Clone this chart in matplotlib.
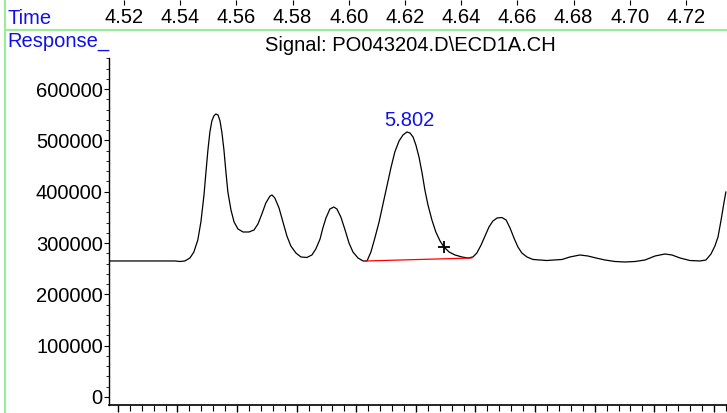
import matplotlib
matplotlib.use("Agg")
import matplotlib.pyplot as plt
from matplotlib.ticker import MultipleLocator, NullFormatter
import numpy as np

plt.rcParams["font.family"] = ["Liberation Sans", "DejaVu Sans"]

# trace (time in min, detector response)
time_min = [
    4.5147, 4.5293, 4.5382, 4.5399, 4.5417, 4.5435, 4.5449, 4.5463, 4.5474, 4.5485,
    4.5492, 4.5499, 4.5506, 4.5513, 4.5520, 4.5527, 4.5535, 4.5542, 4.5549, 4.5556,
    4.5563, 4.5570, 4.5581, 4.5592, 4.5606, 4.5624, 4.5645, 4.5663, 4.5677, 4.5691,
    4.5705, 4.5720, 4.5727, 4.5737, 4.5752, 4.5766, 4.5780, 4.5794, 4.5812, 4.5830,
    4.5851, 4.5869, 4.5883, 4.5898, 4.5908, 4.5919, 4.5933, 4.5947, 4.5958, 4.5972,
    4.5987, 4.6001, 4.6015, 4.6033, 4.6051, 4.6065, 4.6079, 4.6093, 4.6108, 4.6122,
    4.6136, 4.6150, 4.6164, 4.6179, 4.6193, 4.6207, 4.6218, 4.6229, 4.6239, 4.6250,
    4.6261, 4.6271, 4.6282, 4.6296, 4.6310, 4.6325, 4.6339, 4.6357, 4.6378, 4.6403,
    4.6424, 4.6442, 4.6456, 4.6471, 4.6485, 4.6499, 4.6513, 4.6528, 4.6545, 4.6560,
    4.6574, 4.6588, 4.6602, 4.6616, 4.6634, 4.6656, 4.6681, 4.6705, 4.6730, 4.6759,
    4.6787, 4.6823, 4.6851, 4.6880, 4.6912, 4.6947, 4.6983, 4.7019, 4.7054, 4.7090,
    4.7125, 4.7150, 4.7179, 4.7214, 4.7250, 4.7271, 4.7289, 4.7303, 4.7314, 4.7325,
    4.7335, 4.7342,
]
response = [
    265100, 265100, 265100, 264100, 265100, 270900, 282600, 306000, 341100, 393700,
    438500, 481400, 516500, 537900, 547700, 551600, 549600, 537900, 514500, 481400,
    438500, 399500, 364500, 341100, 327400, 321600, 321600, 325500, 337200, 356700,
    378100, 391700, 393700, 387900, 368400, 341100, 313800, 294300, 280700, 272900,
    271900, 276800, 288500, 307900, 329400, 348900, 366400, 370300, 366400, 350800,
    325500, 300100, 282600, 270900, 265100, 265100, 282600, 309900, 341100, 376200,
    411200, 446300, 477500, 498900, 510600, 516500, 514500, 506700, 491100, 467800,
    436600, 403400, 374200, 345000, 321600, 304000, 292400, 282600, 276800, 272900,
    270900, 272900, 280700, 296200, 313800, 331300, 343000, 348900, 349800, 345000,
    329400, 309900, 292400, 280700, 272900, 268000, 267000, 266000, 267000, 268000,
    272900, 276800, 274800, 270900, 267000, 264100, 263100, 264100, 267000, 274800,
    278700, 276800, 270900, 266000, 265100, 267000, 278700, 294300, 311800, 345000,
    378100, 399500,
]

# integration baseline of the labelled peak and the cursor mark
base_time = [4.6062, 4.6438]
base_resp = [265100, 270900]
cursor_time = 4.6339
cursor_resp = 292400
peak_label = "5.802"
signal_name = r"Signal: PO043204.D\ECD1A.CH"

top_ticks = [4.52, 4.54, 4.56, 4.58, 4.60, 4.62, 4.64, 4.66, 4.68, 4.70, 4.72]

W, H = 727, 413
XLIM = (4.5147, 4.7346)
fig = plt.figure(figsize=(W / 100, H / 100), dpi=100)

ax = fig.add_axes([109 / W, 8 / H, 1 - 109 / W, 347 / H])
ax.plot(time_min, response, color="black", lw=0.9)
ax.plot(base_time, base_resp, color="red", lw=0.9)
ax.plot(cursor_time, cursor_resp, marker="+", color="black", ms=8, mew=1.3)

i_max = int(np.argmax(response[50:70])) + 50
ax.annotate(peak_label, xy=(time_min[i_max] + 0.0008, response[i_max]), xytext=(0, 1.5),
            textcoords="offset points", ha="center", va="bottom",
            color="#1010ee", fontsize=14.5)

ax.set_xlim(*XLIM)
ax.set_ylim(-15600, 660700)
for s in ["top", "right"]:
    ax.spines[s].set_visible(False)
ax.spines["left"].set_linewidth(1.0)
ax.spines["bottom"].set_linewidth(1.2)
ax.set_xticks([])

ax.yaxis.set_major_locator(MultipleLocator(100000))
ax.yaxis.set_minor_locator(MultipleLocator(20000))
ax.tick_params(axis="y", which="major", direction="out", length=3.5, width=0.8,
               labelsize=14.5, pad=1)
ax.tick_params(axis="y", which="minor", direction="out", length=2, width=0.6)

# the unlabelled run-time scale along the bottom
sec = ax.secondary_xaxis("bottom", functions=(lambda t: 5.80 + (t - 4.6239) * 0.943,
                                             lambda r: 4.6239 + (r - 5.80) / 0.943))
sec.xaxis.set_major_locator(MultipleLocator(0.02))
sec.xaxis.set_minor_locator(MultipleLocator(0.004))
sec.xaxis.set_major_formatter(NullFormatter())
sec.tick_params(which="major", direction="out", length=5, width=1.0)
sec.tick_params(which="minor", direction="out", length=4, width=0.8)
sec.spines["bottom"].set_visible(False)

# time scale strip at the top of the window
axt = fig.add_axes([109 / W, 1 - 5 / H, 1 - 109 / W, 1 / H])
axt.set_facecolor("none")
for s in axt.spines.values():
    s.set_visible(False)
axt.set_xlim(*XLIM)
axt.set_yticks([])
axt.set_xticks(top_ticks)
axt.set_xticklabels([f"{t:.2f}" for t in top_ticks])
axt.tick_params(axis="x", direction="in", length=3.6, width=0.8, labelsize=14.5, pad=2)

fig.text(7 / W, 1 - 24 / H, "Time", color="#1010ee", fontsize=14.5, va="baseline")
fig.text(7 / W, 1 - 47 / H, "Response_", color="#1010ee", fontsize=14.5, va="baseline")
fig.text(410 / W, 1 - 51 / H, signal_name, color="black", fontsize=14.5,
         ha="center", va="baseline")

green = "#98ee98"
fig.add_artist(plt.Line2D([5 / W, 1], [1 - 30 / H] * 2, color=green, lw=1.5))
fig.add_artist(plt.Line2D([5 / W] * 2, [0, 1], color=green, lw=1.5))

fig.savefig("out.png", dpi=100, facecolor="white")
